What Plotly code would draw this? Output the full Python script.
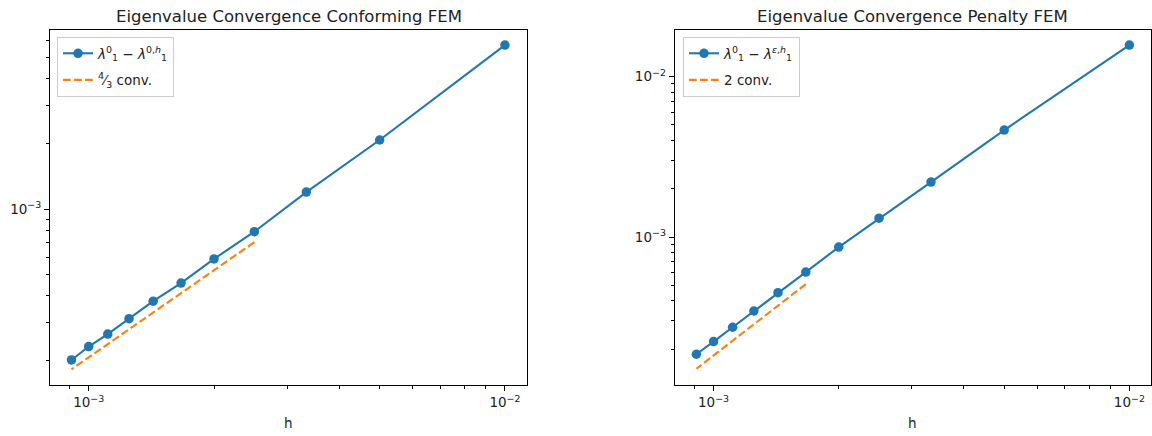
import plotly.graph_objects as go

# ---- data ----
k_vals = [1, 2, 3, 4, 5, 6, 7, 8, 9, 10, 11]
h_vals = [1.0 / (100 * k) for k in k_vals]

err_conforming = [5.71e-3, 2.085e-3, 1.20e-3, 7.88e-4, 5.90e-4, 4.57e-4,
                  3.77e-4, 3.13e-4, 2.66e-4, 2.33e-4, 2.02e-4]
err_penalty = [1.57e-2, 4.64e-3, 2.20e-3, 1.31e-3, 8.66e-4, 6.05e-4,
               4.50e-4, 3.46e-4, 2.74e-4, 2.23e-4, 1.86e-4]

ref_conf_h = h_vals[3:]
ref_conf = [7.05e-4, 5.24e-4, 4.11e-4, 3.34e-4, 2.80e-4, 2.39e-4, 2.08e-4, 1.83e-4]
ref_pen_h = h_vals[5:]
ref_pen = [5.09e-4, 3.74e-4, 2.86e-4, 2.26e-4, 1.83e-4, 1.51e-4]

titles = ["Eigenvalue Convergence Conforming FEM", "Eigenvalue Convergence Penalty FEM"]
xlabel = "h"
labels_conf = ["<i>λ</i><sup>0</sup><sub>1</sub> − <i>λ</i><sup>0,<i>h</i></sup><sub>1</sub>",
               "<sup>4</sup>⁄<sub>3</sub> conv."]
labels_pen = ["<i>λ</i><sup>0</sup><sub>1</sub> − <i>λ</i><sup><i>ε</i>,<i>h</i></sup><sub>1</sub>",
              "2 conv."]

BLUE = "#1f77b4"
ORANGE = "#ff7f0e"
FONT = "DejaVu Sans"
W, H = 1152, 436

fig = go.Figure()

fig.add_trace(go.Scatter(x=h_vals, y=err_conforming, mode="lines+markers",
                         line=dict(color=BLUE, width=2.1), marker=dict(size=9.5, color=BLUE),
                         name=labels_conf[0], xaxis="x", yaxis="y", legend="legend",
                         legendgroup="a"))
fig.add_trace(go.Scatter(x=ref_conf_h, y=ref_conf, mode="lines",
                         line=dict(color=ORANGE, width=2.1, dash="7.7px,3.3px"),
                         name=labels_conf[1], xaxis="x", yaxis="y", legend="legend",
                         legendgroup="b"))
fig.add_trace(go.Scatter(x=h_vals, y=err_penalty, mode="lines+markers",
                         line=dict(color=BLUE, width=2.1), marker=dict(size=9.5, color=BLUE),
                         name=labels_pen[0], xaxis="x2", yaxis="y2", legend="legend2",
                         legendgroup="c"))
fig.add_trace(go.Scatter(x=ref_pen_h, y=ref_pen, mode="lines",
                         line=dict(color=ORANGE, width=2.1, dash="7.7px,3.3px"),
                         name=labels_pen[1], xaxis="x2", yaxis="y2", legend="legend2",
                         legendgroup="d"))

def decade_text(v):
    import math
    e = int(round(math.log10(v)))
    return "10<sup>−%d</sup>" % (-e) if e < 0 else "10<sup>%d</sup>" % e

def minor_vals(lo_exp, hi_exp):
    out = []
    for e in range(lo_exp, hi_exp + 1):
        for m in range(2, 10):
            out.append(m * 10.0 ** e)
    return out

axis_common = dict(type="log", showgrid=False, zeroline=False, showline=True,
                   linecolor="black", linewidth=1.1, mirror=True,
                   ticks="outside", ticklen=5, tickwidth=1.1, tickcolor="black",
                   tickfont=dict(family=FONT, size=13.5, color="#222"),
                   minor=dict(ticks="outside", ticklen=3, tickwidth=0.9, tickcolor="black",
                              tickmode="array", tickvals=minor_vals(-5, -1), showgrid=False))

ydom = [(H - 385) / H, (H - 30) / H]
xmaj = [1e-3, 1e-2]

legend_common = dict(xanchor="left", yanchor="top",
                     bgcolor="rgba(255,255,255,0.8)", bordercolor="#cccccc", borderwidth=1,
                     font=dict(family=FONT, size=13.5, color="#222"), tracegroupgap=6,
                     itemwidth=30)

fig.update_layout(
    width=W, height=H, margin=dict(l=0, r=0, t=0, b=0),
    paper_bgcolor="white", plot_bgcolor="white",
    xaxis=dict(axis_common, domain=[50 / W, 527 / W], range=[-3.093, -1.947],
               tickmode="array", tickvals=xmaj, ticktext=[decade_text(v) for v in xmaj],
               anchor="y"),
    yaxis=dict(axis_common, domain=ydom, range=[-3.810, -2.174],
               tickmode="array", tickvals=[1e-3], ticktext=[decade_text(1e-3)],
               anchor="x"),
    xaxis2=dict(axis_common, domain=[674.7 / W, 1151 / W], range=[-3.0935, -1.948],
                tickmode="array", tickvals=xmaj, ticktext=[decade_text(v) for v in xmaj],
                anchor="y2"),
    yaxis2=dict(axis_common, domain=ydom, range=[-3.922, -1.710],
                tickmode="array", tickvals=[1e-3, 1e-2], ticktext=[decade_text(1e-3), decade_text(1e-2)],
                anchor="x2"),
    legend=dict(legend_common, x=57 / W, y=(H - 37) / H),
    legend2=dict(legend_common, x=683 / W, y=(H - 37) / H),
    showlegend=True,
)

annos = []
for i, (x0, x1) in enumerate([(50, 527), (674.7, 1151)]):
    xc = (x0 + x1) / 2 / W
    annos.append(dict(text=titles[i], x=xc, y=(H - 16) / H, xref="paper", yref="paper",
                      xanchor="center", yanchor="middle", showarrow=False,
                      font=dict(family=FONT, size=16.5, color="#222")))
    annos.append(dict(text=xlabel, x=xc, y=(H - 423) / H, xref="paper", yref="paper",
                      xanchor="center", yanchor="middle", showarrow=False,
                      font=dict(family=FONT, size=13.5, color="#222")))
fig.update_layout(annotations=annos)

fig.write_html("out.html", config={"displayModeBar": False},
               post_script="document.body.style.margin='0';document.body.style.overflow='hidden';")
